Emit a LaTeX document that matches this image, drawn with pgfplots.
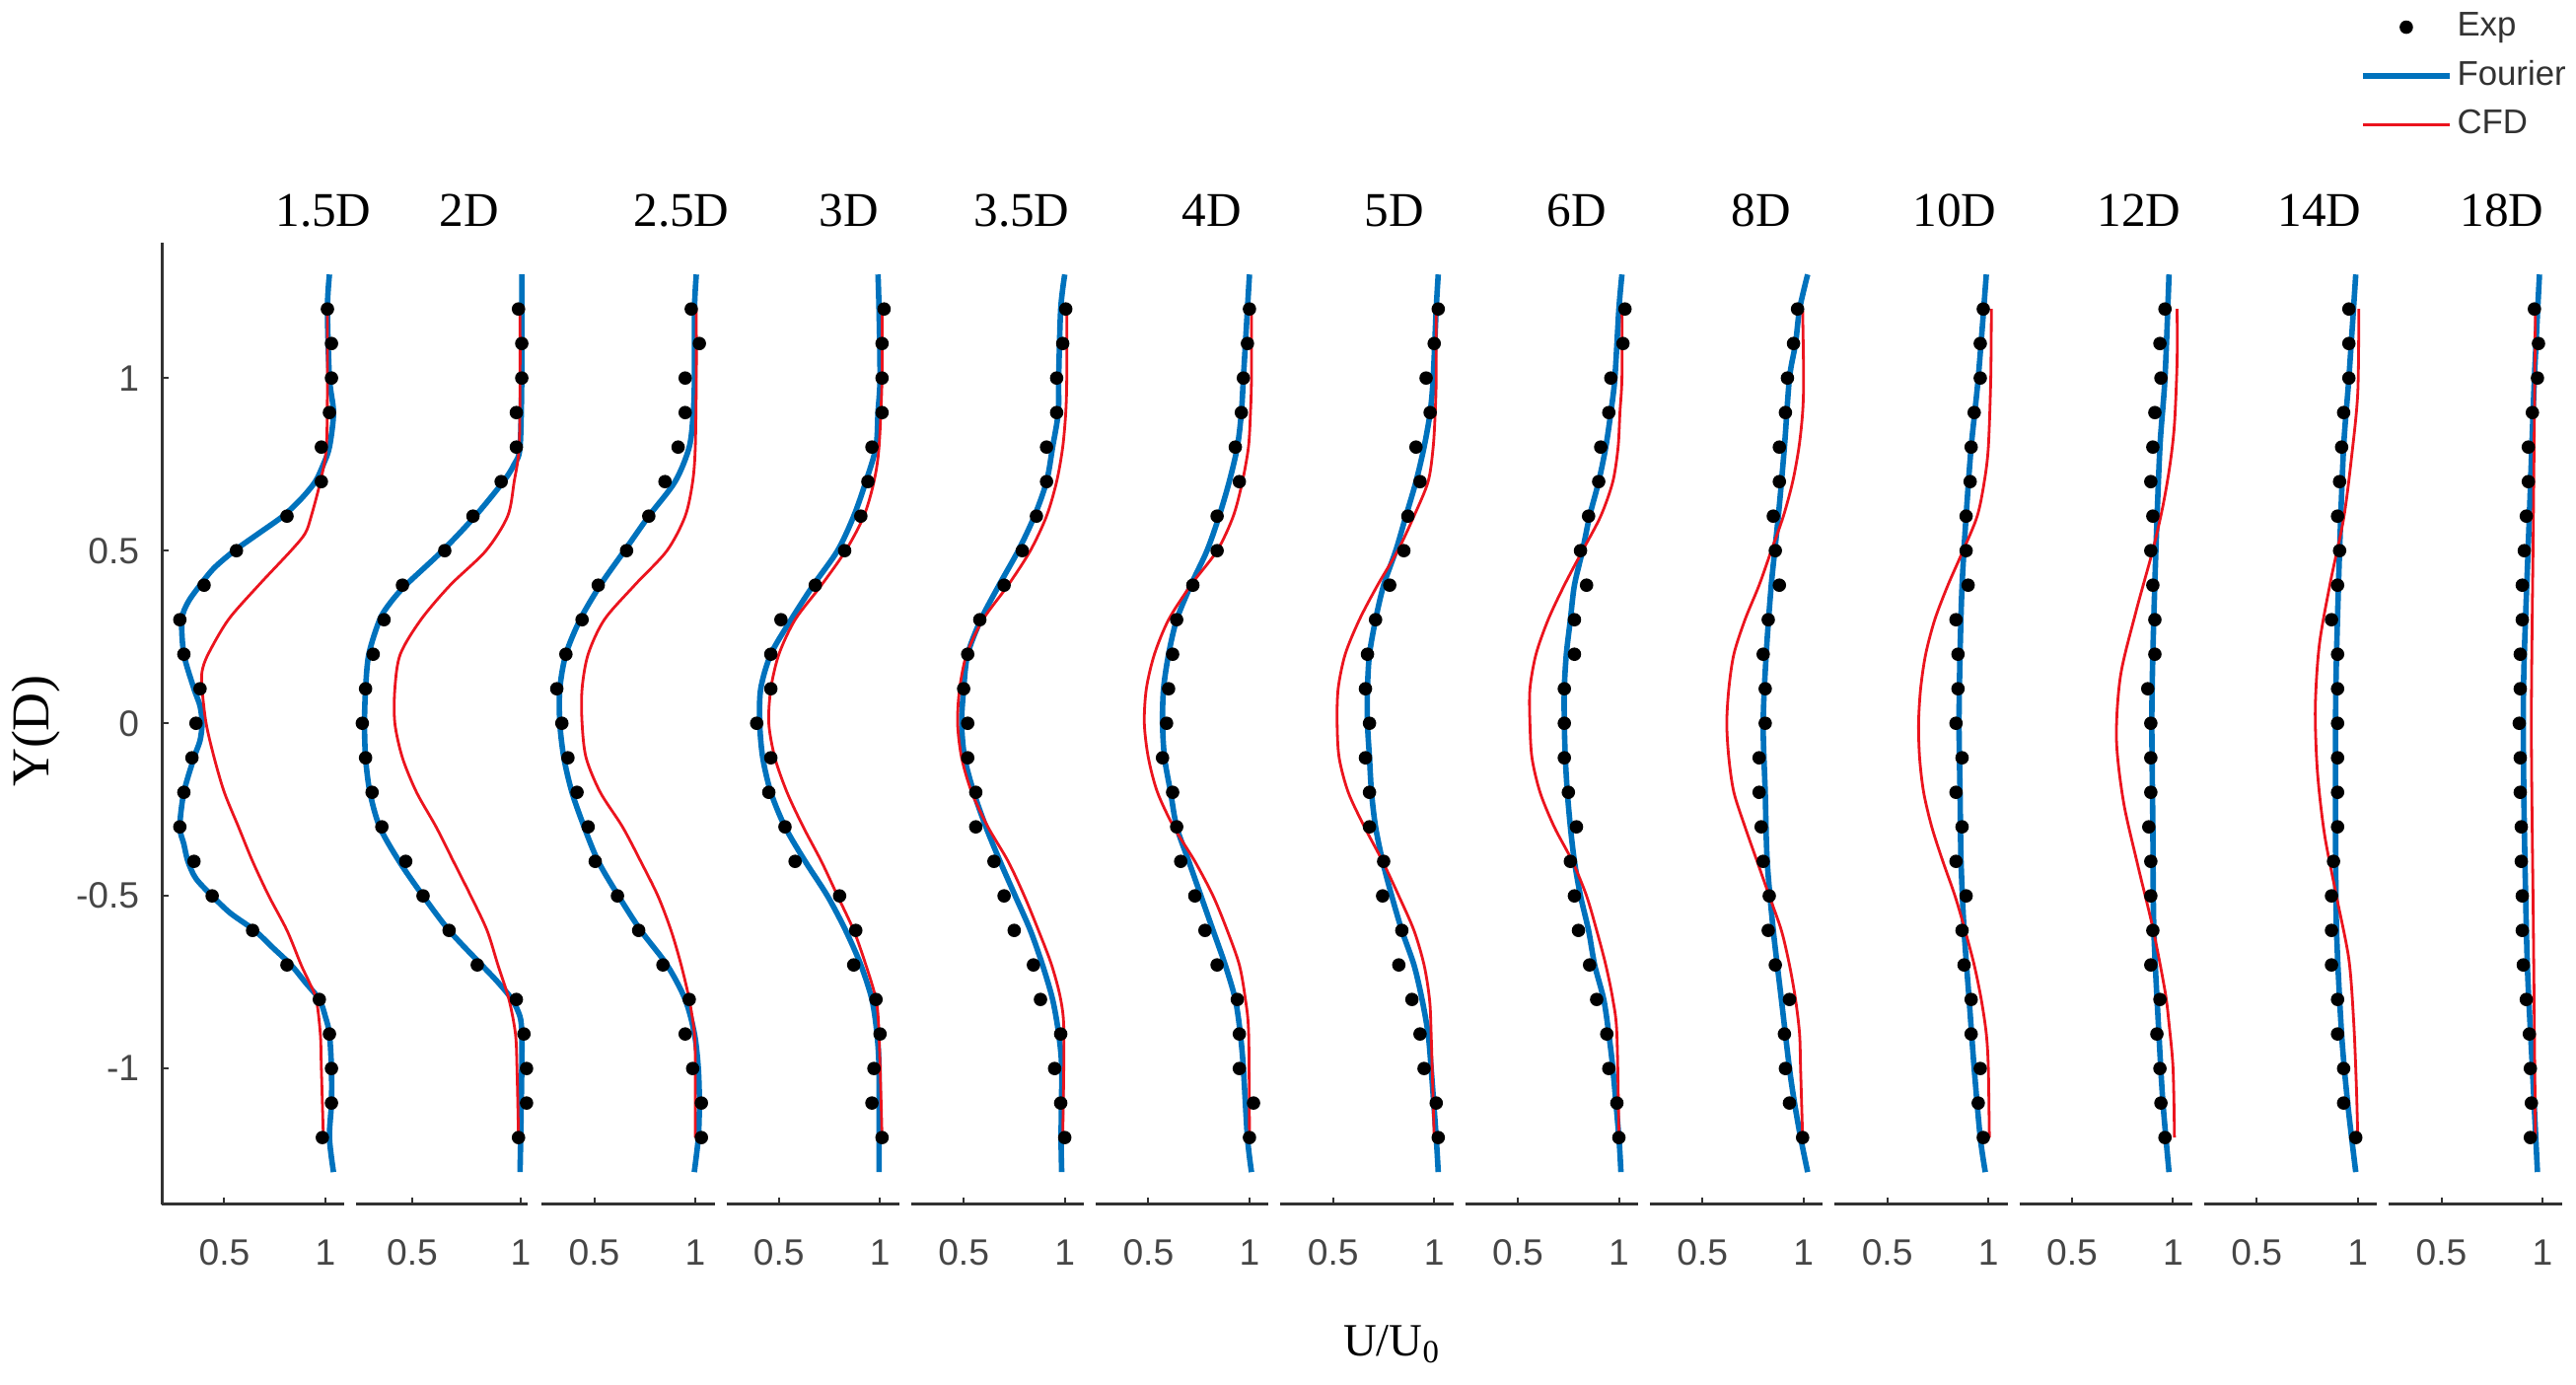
\documentclass[border=0pt]{standalone}
\usepackage{fontspec}
\setmainfont{Liberation Serif}
\newfontfamily\arialf{Liberation Sans}
\usepackage{pgfplots}
\pgfplotsset{compat=1.18}

\definecolor{mblue}{RGB}{0,114,189}
\definecolor{mred}{RGB}{235,20,30}
\definecolor{axgray}{RGB}{50,50,50}
\definecolor{tickgray}{RGB}{70,70,70}

\pgfplotsset{
  panel/.style={
    scale only axis,
    height=243.75pt,
    ymin=-1.393, ymax=1.393,
    axis line style={draw=axgray, line width=0.75pt, -},
    tick style={draw=axgray, line width=0.5pt},
    tick align=inside,
    major tick length=1.6pt,
    xtick={0.5,1}, xticklabels={0.5,1},
    ticklabel style={font=\arialf\fontsize{9.3}{10}\selectfont, text=tickgray},
    xticklabel style={yshift=-5.5pt},
    clip=false,
    anchor=south west,
  },
  noy/.style={axis x line*=bottom, axis y line=none},
  std/.style={panel, noy, width=43.825pt, xmin=0.24, xmax=1.095},
  expstyle/.style={only marks, mark=*, mark size=1.5pt, color=black},
  fourstyle/.style={mblue, line width=1.4pt, smooth, no marks},
  cfdstyle/.style={mred, line width=0.7pt, smooth, no marks},
  dotleg/.style={legend image code/.code={\draw[##1] plot coordinates {(11pt,0pt)};}},
  lineleg/.style={legend image code/.code={\draw[##1] (0pt,0pt) -- (22pt,0pt);}},
}

\begin{document}
\begin{tikzpicture}
\path[use as bounding box] (0,0) rectangle (653pt,350.75pt);

% 1.5D
\begin{axis}[panel, at={(41.125pt,45.575pt)}, width=46.125pt, xmin=0.193, xmax=1.093,
  axis x line*=bottom, axis y line*=left,
  ytick={-1,-0.5,0,0.5,1}, yticklabels={-1,-0.5,0,0.5,1},
  yticklabel style={xshift=-2.3pt}]
\addplot[expstyle] coordinates {
(0.985,-1.2)(1.03,-1.1)(1.03,-1.0)(1.02,-0.9)(0.97,-0.8)(0.81,-0.7)(0.64,-0.6)(0.44,-0.5)(0.35,-0.4)(0.28,-0.3)(0.30,-0.2)(0.34,-0.1)(0.36,0)
(0.38,0.1)(0.30,0.2)(0.28,0.3)(0.40,0.4)(0.56,0.5)(0.81,0.6)(0.98,0.7)(0.98,0.8)(1.02,0.9)(1.03,1.0)(1.03,1.1)(1.01,1.2)};
\addplot[fourstyle] coordinates {
(1.04,-1.3)(1.02,-1.2)(1.03,-1.1)(1.03,-1.0)(1.02,-0.9)(1.00,-0.85)(0.97,-0.8)(0.90,-0.75)(0.83,-0.7)(0.74,-0.65)(0.65,-0.6)(0.53,-0.55)(0.44,-0.5)
(0.36,-0.45)(0.32,-0.4)(0.30,-0.35)(0.28,-0.3)(0.30,-0.2)(0.35,-0.1)(0.38,-0.05)(0.39,0)(0.38,0.05)(0.35,0.1)(0.30,0.2)(0.29,0.3)(0.32,0.35)(0.38,0.4)
(0.45,0.45)(0.55,0.5)(0.67,0.55)(0.79,0.6)(0.88,0.65)(0.95,0.7)(0.99,0.75)(1.02,0.8)(1.04,0.9)(1.02,1.0)(1.01,1.2)(1.02,1.3)};
\addplot[cfdstyle] coordinates {
(0.99,-1.2)(0.98,-1.0)(0.975,-0.9)(0.955,-0.8)(0.92,-0.75)(0.88,-0.7)(0.81,-0.6)(0.72,-0.5)(0.64,-0.4)(0.57,-0.3)(0.50,-0.2)(0.45,-0.1)(0.41,0)
(0.39,0.1)(0.39,0.15)(0.42,0.2)(0.52,0.3)(0.67,0.4)(0.83,0.5)(0.90,0.55)(0.93,0.6)(0.975,0.7)(1.005,0.8)(1.01,1.0)(1.01,1.2)};
\end{axis}

% 2D
\begin{axis}[panel, noy, at={(90.25pt,45.575pt)}, width=43.5pt, xmin=0.241, xmax=1.032]
\addplot[expstyle] coordinates {
(0.99,-1.2)(1.027,-1.1)(1.027,-1.0)(1.015,-0.9)(0.98,-0.8)(0.80,-0.7)(0.67,-0.6)(0.55,-0.5)(0.47,-0.4)(0.36,-0.3)(0.315,-0.2)(0.285,-0.1)(0.27,0)
(0.285,0.1)(0.32,0.2)(0.37,0.3)(0.455,0.4)(0.65,0.5)(0.78,0.6)(0.91,0.7)(0.98,0.8)(0.98,0.9)(1.005,1.0)(1.005,1.1)(0.99,1.2)};
\addplot[fourstyle] coordinates {
(0.997,-1.3)(1.0,-1.2)(1.005,-1.0)(1.005,-0.9)(0.997,-0.85)(0.96,-0.8)(0.895,-0.75)(0.82,-0.7)(0.67,-0.6)(0.55,-0.5)(0.44,-0.4)(0.35,-0.3)
(0.305,-0.2)(0.285,-0.1)(0.28,0)(0.285,0.1)(0.30,0.2)(0.35,0.3)(0.40,0.35)(0.47,0.4)(0.64,0.5)(0.79,0.6)(0.92,0.7)(0.97,0.75)(0.997,0.8)(1.005,1.0)(1.005,1.2)(1.005,1.3)};
\addplot[cfdstyle] coordinates {
(0.99,-1.2)(0.983,-1.0)(0.976,-0.9)(0.946,-0.8)(0.895,-0.7)(0.845,-0.6)(0.77,-0.5)(0.69,-0.4)(0.61,-0.3)(0.52,-0.2)(0.455,-0.1)(0.42,0)
(0.42,0.1)(0.445,0.2)(0.54,0.3)(0.675,0.4)(0.84,0.5)(0.94,0.6)(0.97,0.7)(0.993,0.8)(0.997,1.0)(0.997,1.2)};
\end{axis}

% 2.5D
\begin{axis}[std, at={(137.3pt,45.575pt)}]
\addplot[expstyle] coordinates {
(1.03,-1.2)(1.03,-1.1)(0.987,-1.0)(0.95,-0.9)(0.97,-0.8)(0.84,-0.7)(0.72,-0.6)(0.615,-0.5)(0.505,-0.4)(0.47,-0.3)(0.415,-0.2)(0.37,-0.1)(0.34,0)
(0.315,0.1)(0.36,0.2)(0.44,0.3)(0.52,0.4)(0.66,0.5)(0.77,0.6)(0.85,0.7)(0.915,0.8)(0.95,0.9)(0.95,1.0)(1.02,1.1)(0.98,1.2)};
\addplot[fourstyle] coordinates {
(0.995,-1.3)(1.015,-1.2)(1.02,-1.1)(1.015,-1.0)(0.996,-0.9)(0.95,-0.8)(0.86,-0.7)(0.73,-0.6)(0.62,-0.5)(0.52,-0.4)(0.45,-0.3)(0.39,-0.2)(0.35,-0.1)
(0.33,0)(0.33,0.1)(0.36,0.2)(0.43,0.3)(0.53,0.4)(0.65,0.5)(0.77,0.6)(0.90,0.7)(0.97,0.8)(0.99,0.9)(0.996,1.0)(0.996,1.2)(1.005,1.3)};
\addplot[cfdstyle] coordinates {
(1.0,-1.2)(1.0,-1.0)(0.996,-0.9)(0.97,-0.8)(0.93,-0.7)(0.88,-0.6)(0.815,-0.5)(0.73,-0.4)(0.64,-0.3)(0.53,-0.2)(0.46,-0.1)(0.44,0)
(0.44,0.1)(0.47,0.2)(0.55,0.3)(0.70,0.4)(0.86,0.5)(0.95,0.6)(0.987,0.7)(1.0,0.8)(1.005,1.0)(1.005,1.2)};
\end{axis}

% 3D
\begin{axis}[std, at={(184.125pt,45.575pt)}]
\addplot[expstyle] coordinates {
(1.01,-1.2)(0.96,-1.1)(0.97,-1.0)(1.0,-0.9)(0.98,-0.8)(0.87,-0.7)(0.88,-0.6)(0.80,-0.5)(0.58,-0.4)(0.53,-0.3)(0.45,-0.2)(0.46,-0.1)(0.39,0)
(0.46,0.1)(0.46,0.2)(0.51,0.3)(0.68,0.4)(0.825,0.5)(0.905,0.6)(0.94,0.7)(0.96,0.8)(1.01,0.9)(1.01,1.0)(1.01,1.1)(1.02,1.2)};
\addplot[fourstyle] coordinates {
(0.995,-1.3)(0.995,-1.2)(0.995,-1.0)(0.985,-0.9)(0.96,-0.8)(0.905,-0.7)(0.83,-0.6)(0.74,-0.5)(0.63,-0.4)(0.53,-0.3)(0.46,-0.2)(0.42,-0.1)
(0.405,0)(0.41,0.1)(0.46,0.2)(0.56,0.3)(0.67,0.4)(0.79,0.5)(0.87,0.6)(0.93,0.7)(0.98,0.8)(0.99,0.9)(1.0,1.0)(0.995,1.2)(0.99,1.3)};
\addplot[cfdstyle] coordinates {
(1.01,-1.2)(0.995,-0.9)(0.98,-0.8)(0.93,-0.7)(0.87,-0.6)(0.79,-0.5)(0.71,-0.4)(0.62,-0.3)(0.54,-0.2)(0.48,-0.1)(0.45,0)
(0.46,0.1)(0.50,0.2)(0.58,0.3)(0.71,0.4)(0.83,0.5)(0.92,0.6)(0.97,0.7)(0.995,0.8)(1.01,1.0)(1.01,1.2)};
\end{axis}

% 3.5D
\begin{axis}[std, at={(230.95pt,45.575pt)}]
\addplot[expstyle] coordinates {
(1.0,-1.2)(0.98,-1.1)(0.95,-1.0)(0.98,-0.9)(0.88,-0.8)(0.845,-0.7)(0.75,-0.6)(0.70,-0.5)(0.65,-0.4)(0.56,-0.3)(0.56,-0.2)(0.52,-0.1)(0.52,0)
(0.50,0.1)(0.52,0.2)(0.58,0.3)(0.70,0.4)(0.79,0.5)(0.86,0.6)(0.91,0.7)(0.91,0.8)(0.96,0.9)(0.96,1.0)(0.99,1.1)(1.005,1.2)};
\addplot[fourstyle] coordinates {
(0.985,-1.3)(0.982,-1.2)(0.985,-1.0)(0.97,-0.9)(0.94,-0.8)(0.89,-0.7)(0.83,-0.6)(0.755,-0.5)(0.68,-0.4)(0.61,-0.3)(0.55,-0.2)(0.505,-0.1)
(0.49,0)(0.50,0.1)(0.52,0.2)(0.585,0.3)(0.675,0.4)(0.77,0.5)(0.85,0.6)(0.91,0.7)(0.94,0.8)(0.968,0.9)(0.97,1.0)(0.98,1.2)(1.0,1.3)};
\addplot[cfdstyle] coordinates {
(0.99,-1.2)(0.996,-0.9)(0.98,-0.8)(0.935,-0.7)(0.87,-0.6)(0.80,-0.5)(0.72,-0.4)(0.62,-0.3)(0.54,-0.2)(0.49,-0.1)(0.47,0)
(0.48,0.1)(0.515,0.2)(0.595,0.3)(0.72,0.4)(0.83,0.5)(0.91,0.6)(0.96,0.7)(0.99,0.8)(1.005,0.9)(1.01,1.0)(1.01,1.2)};
\end{axis}

% 4D
\begin{axis}[std, at={(277.775pt,45.575pt)}]
\addplot[expstyle] coordinates {
(1.0,-1.2)(1.02,-1.1)(0.95,-1.0)(0.95,-0.9)(0.94,-0.8)(0.84,-0.7)(0.78,-0.6)(0.73,-0.5)(0.66,-0.4)(0.64,-0.3)(0.62,-0.2)(0.57,-0.1)(0.59,0)
(0.60,0.1)(0.62,0.2)(0.64,0.3)(0.72,0.4)(0.84,0.5)(0.84,0.6)(0.95,0.7)(0.93,0.8)(0.96,0.9)(0.97,1.0)(0.99,1.1)(1.0,1.2)};
\addplot[fourstyle] coordinates {
(1.01,-1.3)(0.99,-1.2)(0.97,-1.0)(0.955,-0.9)(0.93,-0.8)(0.88,-0.7)(0.82,-0.6)(0.76,-0.5)(0.70,-0.4)(0.64,-0.3)(0.61,-0.2)(0.58,-0.1)
(0.57,0)(0.575,0.1)(0.60,0.2)(0.64,0.3)(0.71,0.4)(0.79,0.5)(0.85,0.6)(0.90,0.7)(0.94,0.8)(0.96,0.9)(0.97,1.0)(0.99,1.2)(1.0,1.3)};
\addplot[cfdstyle] coordinates {
(1.0,-1.2)(0.996,-0.9)(0.98,-0.8)(0.95,-0.7)(0.89,-0.6)(0.82,-0.5)(0.73,-0.4)(0.625,-0.3)(0.545,-0.2)(0.50,-0.1)(0.48,0)
(0.49,0.1)(0.53,0.2)(0.60,0.3)(0.71,0.4)(0.84,0.5)(0.92,0.6)(0.965,0.7)(0.995,0.8)(1.005,0.9)(1.01,1.0)(1.01,1.2)};
\end{axis}

% 5D
\begin{axis}[std, at={(324.6pt,45.575pt)}]
\addplot[expstyle] coordinates {
(1.02,-1.2)(1.01,-1.1)(0.95,-1.0)(0.93,-0.9)(0.89,-0.8)(0.825,-0.7)(0.84,-0.6)(0.745,-0.5)(0.75,-0.4)(0.68,-0.3)(0.68,-0.2)(0.66,-0.1)(0.68,0)
(0.66,0.1)(0.67,0.2)(0.71,0.3)(0.78,0.4)(0.85,0.5)(0.87,0.6)(0.93,0.7)(0.91,0.8)(0.98,0.9)(0.96,1.0)(1.0,1.1)(1.02,1.2)};
\addplot[fourstyle] coordinates {
(1.02,-1.3)(1.01,-1.2)(0.985,-1.0)(0.97,-0.9)(0.94,-0.8)(0.90,-0.7)(0.84,-0.6)(0.79,-0.5)(0.745,-0.4)(0.71,-0.3)(0.69,-0.2)(0.68,-0.1)
(0.67,0)(0.67,0.1)(0.68,0.2)(0.71,0.3)(0.75,0.4)(0.81,0.5)(0.86,0.6)(0.91,0.7)(0.95,0.8)(0.98,0.9)(0.995,1.0)(1.01,1.2)(1.02,1.3)};
\addplot[cfdstyle] coordinates {
(1.0,-1.2)(0.985,-0.9)(0.977,-0.8)(0.95,-0.7)(0.90,-0.6)(0.825,-0.5)(0.745,-0.4)(0.655,-0.3)(0.575,-0.2)(0.53,-0.1)(0.52,0)
(0.525,0.1)(0.56,0.2)(0.63,0.3)(0.72,0.4)(0.82,0.5)(0.90,0.6)(0.97,0.7)(0.995,0.8)(1.005,0.9)(1.01,1.0)(1.01,1.2)};
\end{axis}

% 6D
\begin{axis}[std, at={(371.425pt,45.575pt)}]
\addplot[expstyle] coordinates {
(1.0,-1.2)(0.99,-1.1)(0.95,-1.0)(0.94,-0.9)(0.89,-0.8)(0.855,-0.7)(0.80,-0.6)(0.78,-0.5)(0.76,-0.4)(0.79,-0.3)(0.75,-0.2)(0.73,-0.1)(0.73,0)
(0.73,0.1)(0.78,0.2)(0.78,0.3)(0.84,0.4)(0.81,0.5)(0.85,0.6)(0.90,0.7)(0.91,0.8)(0.95,0.9)(0.96,1.0)(1.02,1.1)(1.03,1.2)};
\addplot[fourstyle] coordinates {
(1.01,-1.3)(1.0,-1.2)(0.97,-1.0)(0.95,-0.9)(0.925,-0.8)(0.88,-0.7)(0.85,-0.6)(0.81,-0.5)(0.78,-0.4)(0.76,-0.3)(0.745,-0.2)(0.735,-0.1)
(0.73,0)(0.73,0.1)(0.74,0.2)(0.76,0.3)(0.78,0.4)(0.82,0.5)(0.855,0.6)(0.90,0.7)(0.935,0.8)(0.96,0.9)(0.98,1.0)(1.0,1.2)(1.015,1.3)};
\addplot[cfdstyle] coordinates {
(1.0,-1.2)(0.99,-0.9)(0.97,-0.8)(0.935,-0.7)(0.89,-0.6)(0.84,-0.5)(0.77,-0.4)(0.68,-0.3)(0.61,-0.2)(0.57,-0.1)(0.56,0)
(0.56,0.1)(0.59,0.2)(0.65,0.3)(0.73,0.4)(0.82,0.5)(0.91,0.6)(0.97,0.7)(0.996,0.8)(1.005,0.9)(1.015,1.0)(1.015,1.2)};
\end{axis}

% 8D
\begin{axis}[std, at={(418.25pt,45.575pt)}]
\addplot[expstyle] coordinates {
(0.995,-1.2)(0.93,-1.1)(0.91,-1.0)(0.905,-0.9)(0.93,-0.8)(0.86,-0.7)(0.825,-0.6)(0.83,-0.5)(0.80,-0.4)(0.79,-0.3)(0.78,-0.2)(0.78,-0.1)(0.81,0)
(0.81,0.1)(0.80,0.2)(0.825,0.3)(0.88,0.4)(0.86,0.5)(0.85,0.6)(0.88,0.7)(0.88,0.8)(0.91,0.9)(0.92,1.0)(0.95,1.1)(0.97,1.2)};
\addplot[fourstyle] coordinates {
(1.02,-1.3)(0.985,-1.2)(0.955,-1.1)(0.93,-1.0)(0.89,-0.8)(0.85,-0.6)(0.82,-0.4)(0.81,-0.2)(0.80,0)(0.815,0.2)(0.84,0.4)(0.875,0.6)(0.905,0.8)
(0.93,1.0)(0.96,1.1)(0.98,1.2)(1.02,1.3)};
\addplot[cfdstyle] coordinates {
(0.995,-1.2)(0.985,-1.0)(0.98,-0.9)(0.96,-0.8)(0.93,-0.7)(0.89,-0.6)(0.83,-0.5)(0.77,-0.4)(0.71,-0.3)(0.655,-0.2)(0.63,-0.1)(0.62,0)
(0.63,0.1)(0.655,0.2)(0.71,0.3)(0.78,0.4)(0.84,0.5)(0.90,0.6)(0.946,0.7)(0.977,0.8)(0.995,0.9)(1.0,1.0)(0.995,1.2)};
\end{axis}

% 10D
\begin{axis}[std, at={(465.075pt,45.575pt)}]
\addplot[expstyle] coordinates {
(0.975,-1.2)(0.95,-1.1)(0.96,-1.0)(0.915,-0.9)(0.915,-0.8)(0.88,-0.7)(0.87,-0.6)(0.89,-0.5)(0.84,-0.4)(0.87,-0.3)(0.84,-0.2)(0.87,-0.1)(0.84,0)
(0.85,0.1)(0.85,0.2)(0.84,0.3)(0.90,0.4)(0.89,0.5)(0.89,0.6)(0.91,0.7)(0.915,0.8)(0.93,0.9)(0.96,1.0)(0.96,1.1)(0.975,1.2)};
\addplot[fourstyle] coordinates {
(0.985,-1.3)(0.96,-1.2)(0.93,-1.0)(0.905,-0.8)(0.88,-0.6)(0.865,-0.4)(0.86,-0.2)(0.855,0)(0.86,0.2)(0.87,0.4)(0.89,0.6)(0.915,0.8)(0.95,1.0)(0.99,1.3)};
\addplot[cfdstyle] coordinates {
(1.005,-1.2)(1.0,-1.0)(0.99,-0.9)(0.965,-0.8)(0.93,-0.7)(0.885,-0.6)(0.835,-0.5)(0.775,-0.4)(0.72,-0.3)(0.68,-0.2)(0.66,-0.1)(0.655,0)
(0.665,0.1)(0.69,0.2)(0.735,0.3)(0.80,0.4)(0.875,0.5)(0.945,0.6)(0.98,0.7)(1.0,0.8)(1.012,1.0)(1.015,1.2)};
\end{axis}

% 12D
\begin{axis}[std, at={(511.9pt,45.575pt)}]
\addplot[expstyle] coordinates {
(0.96,-1.2)(0.94,-1.1)(0.935,-1.0)(0.92,-0.9)(0.935,-0.8)(0.89,-0.7)(0.90,-0.6)(0.89,-0.5)(0.89,-0.4)(0.88,-0.3)(0.89,-0.2)(0.89,-0.1)(0.89,0)
(0.875,0.1)(0.91,0.2)(0.91,0.3)(0.90,0.4)(0.89,0.5)(0.90,0.6)(0.89,0.7)(0.90,0.8)(0.91,0.9)(0.94,1.0)(0.935,1.1)(0.96,1.2)};
\addplot[fourstyle] coordinates {
(0.98,-1.3)(0.95,-1.1)(0.93,-0.9)(0.905,-0.6)(0.90,-0.3)(0.895,0)(0.90,0.2)(0.915,0.5)(0.935,0.8)(0.96,1.0)(0.98,1.3)};
\addplot[cfdstyle] coordinates {
(1.007,-1.2)(1.0,-1.0)(0.98,-0.87)(0.96,-0.775)(0.90,-0.593)(0.825,-0.41)(0.755,-0.228)(0.72,-0.046)(0.74,0.137)(0.815,0.32)(0.90,0.502)
(0.95,0.63)(0.985,0.75)(1.007,0.867)(1.02,1.05)(1.02,1.2)};
\end{axis}

% 14D
\begin{axis}[std, at={(558.725pt,45.575pt)}]
\addplot[expstyle] coordinates {
(0.99,-1.2)(0.93,-1.1)(0.93,-1.0)(0.90,-0.9)(0.90,-0.8)(0.87,-0.7)(0.87,-0.6)(0.87,-0.5)(0.88,-0.4)(0.90,-0.3)(0.90,-0.2)(0.90,-0.1)(0.90,0)
(0.90,0.1)(0.90,0.2)(0.87,0.3)(0.90,0.4)(0.91,0.5)(0.90,0.6)(0.91,0.7)(0.92,0.8)(0.93,0.9)(0.956,1.0)(0.956,1.1)(0.956,1.2)};
\addplot[fourstyle] coordinates {
(0.99,-1.3)(0.95,-1.1)(0.92,-0.9)(0.895,-0.6)(0.89,-0.3)(0.89,0)(0.895,0.2)(0.91,0.5)(0.93,0.8)(0.956,1.0)(0.99,1.3)};
\addplot[cfdstyle] coordinates {
(1.0,-1.2)(0.993,-1.05)(0.98,-0.867)(0.956,-0.684)(0.895,-0.502)(0.835,-0.32)(0.80,-0.137)(0.79,0.046)(0.81,0.228)(0.865,0.41)
(0.93,0.593)(0.97,0.775)(1.0,0.958)(1.005,1.2)};
\end{axis}

% 18D
\begin{axis}[std, at={(605.55pt,45.575pt)},
  legend style={draw=none, fill=none, at={(-0.166,1.244)}, anchor=north west,
    font=\arialf\fontsize{8.7}{9.5}\selectfont, text=axgray,
    row sep=2.3pt, inner sep=0pt, outer sep=0pt,
    nodes={inner sep=1.2pt}},
  legend cell align=left]
\addplot[expstyle, dotleg] coordinates {
(0.94,-1.2)(0.945,-1.1)(0.94,-1.0)(0.935,-0.9)(0.92,-0.8)(0.905,-0.7)(0.90,-0.6)(0.90,-0.5)(0.895,-0.4)(0.895,-0.3)(0.89,-0.2)(0.89,-0.1)(0.885,0)
(0.89,0.1)(0.89,0.2)(0.90,0.3)(0.90,0.4)(0.91,0.5)(0.92,0.6)(0.93,0.7)(0.93,0.8)(0.95,0.9)(0.975,1.0)(0.98,1.1)(0.96,1.2)};
\addlegendentry{Exp}
\addplot[fourstyle, lineleg] coordinates {
(0.975,-1.3)(0.95,-1.0)(0.925,-0.7)(0.91,-0.3)(0.905,0)(0.91,0.2)(0.935,0.6)(0.96,1.0)(0.985,1.3)};
\addlegendentry{Fourier}
\addplot[cfdstyle, lineleg] coordinates {
(0.965,-1.2)(0.955,-0.6)(0.945,0)(0.955,0.6)(0.965,1.2)};
\addlegendentry{CFD}
\end{axis}

% panel titles
\begin{scope}[every node/.style={anchor=base, inner sep=0pt, font=\fontsize{12.3}{14}\selectfont}]
\node at (82pt,293.25pt) {1.5D};
\node at (119pt,293.25pt) {2D};
\node at (172.75pt,293.25pt) {2.5D};
\node at (215.25pt,293.25pt) {3D};
\node at (259pt,293.25pt) {3.5D};
\node at (307.25pt,293.25pt) {4D};
\node at (353.5pt,293.25pt) {5D};
\node at (399.75pt,293.25pt) {6D};
\node at (446.5pt,293.25pt) {8D};
\node at (495.5pt,293.25pt) {10D};
\node at (542.25pt,293.25pt) {12D};
\node at (588pt,293.25pt) {14D};
\node at (634.25pt,293.25pt) {18D};
\end{scope}

\node[rotate=90, inner sep=0pt, font=\fontsize{13.5}{15}\selectfont] at (9.25pt,165.5pt) {Y(D)};
\node[anchor=base, inner sep=0pt, font=\fontsize{11.7}{14}\selectfont] at (352.9pt,7.25pt) {U/U\textsubscript{0}};
\end{tikzpicture}
\end{document}
